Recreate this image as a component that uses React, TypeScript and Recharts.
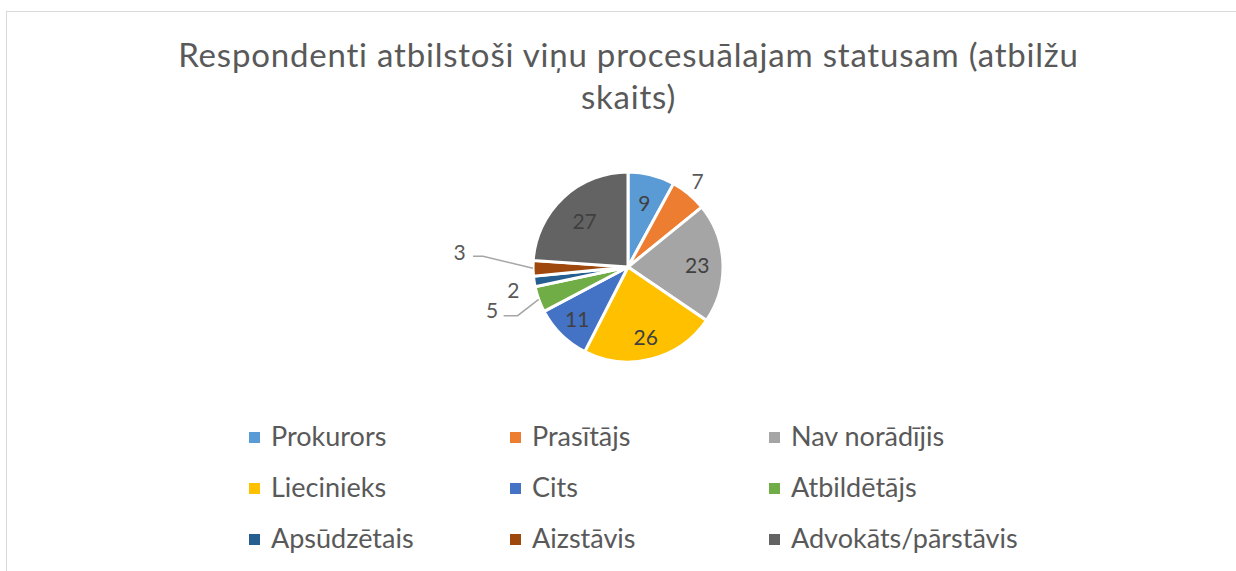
import React from "react";
import { PieChart, Pie, Cell, Legend } from "recharts";

const categories = [
  "Prokurors",
  "Prasītājs",
  "Nav norādījis",
  "Liecinieks",
  "Cits",
  "Atbildētājs",
  "Apsūdzētais",
  "Aizstāvis",
  "Advokāts/pārstāvis",
];
const counts = [9, 7, 23, 26, 11, 5, 2, 3, 27];
const colors = ["#5b9bd5", "#ed7d31", "#a5a5a5", "#ffc000", "#4472c4", "#70ad47", "#255e91", "#9e480e", "#636363"];
const title = ["Respondenti atbilstoši viņu procesuālajam statusam (atbilžu", "skaits)"];

const data = categories.map((name, i) => ({ name, value: counts[i], color: colors[i] }));

const RAD = Math.PI / 180;
const TEXT = "#595959";
const FONT = "Lato, 'Open Sans', sans-serif";

// label placement per slice: radius factor, angle shift, optional leader elbow
type Place = { r: number; da: number; inside?: boolean; elbow?: { r: number; a: number; run: number } };
const places: Place[] = [
  { r: 0.7, da: 0, inside: true },
  { r: 1.17, da: 1 },
  { r: 0.73, da: 0, inside: true },
  { r: 0.75, da: 0, inside: true },
  { r: 0.76, da: 0, inside: true },
  { r: 1.5, da: -2.4, elbow: { r: 1.27, a: 3.9, run: 14 } },
  { r: 1.23, da: 2.5 },
  { r: 1.78, da: -6, elbow: { r: 1.53, a: -5, run: 10 } },
  { r: 0.67, da: 0, inside: true },
];

function pt(cx: number, cy: number, r: number, a: number) {
  return { x: cx + r * Math.cos(-a * RAD), y: cy + r * Math.sin(-a * RAD) };
}

function renderLabel(props: any) {
  const { cx, cy, midAngle, outerRadius, index, value } = props;
  const p = places[index];
  const t = pt(cx, cy, outerRadius * p.r, midAngle + p.da);
  let line = null;
  if (p.elbow) {
    const s = pt(cx, cy, outerRadius, midAngle);
    const e = pt(cx, cy, outerRadius * p.elbow.r, midAngle + p.elbow.a);
    line = (
      <polyline
        points={`${s.x},${s.y} ${e.x},${e.y} ${e.x - p.elbow.run},${e.y}`}
        fill="none"
        stroke="#a6a6a6"
        strokeWidth={1.5}
      />
    );
  }
  return (
    <g key={`lbl-${index}`}>
      {line}
      <text
        x={t.x}
        y={t.y}
        textAnchor="middle"
        dominantBaseline="central"
        fill={p.inside ? "#404040" : TEXT}
        fontSize={21}
        fontFamily={FONT}
      >
        {value}
      </text>
    </g>
  );
}

function LegendGrid() {
  return (
    <div
      style={{
        display: "grid",
        gridTemplateColumns: "261px 259px 300px",
        rowGap: 19,
        fontFamily: FONT,
        fontSize: 27,
        color: TEXT,
        lineHeight: "32px",
      }}
    >
      {data.map((d) => (
        <div key={d.name} style={{ display: "flex", alignItems: "flex-start", height: 32 }}>
          <span style={{ width: 11, height: 11, background: d.color, marginTop: 12, marginRight: 11, flex: "none" }} />
          <span style={{ whiteSpace: "nowrap" }}>{d.name}</span>
        </div>
      ))}
    </div>
  );
}

export default function App() {
  return (
    <div style={{ position: "absolute", left: 0, top: 0, width: 1236, height: 571, background: "#fff", overflow: "hidden" }}>
      <div
        style={{
          position: "absolute",
          left: 6,
          top: 11,
          width: 1300,
          height: 600,
          border: "1.5px solid #d9d9d9",
          boxSizing: "border-box",
        }}
      />
      <div
        style={{
          position: "absolute",
          left: 0,
          top: 33,
          width: 1257,
          textAlign: "center",
          fontFamily: FONT,
          fontSize: 33,
          letterSpacing: 0.8,
          lineHeight: "42px",
          color: TEXT,
        }}
      >
        <div>{title[0]}</div>
        <div>{title[1]}</div>
      </div>
      <div style={{ position: "absolute", left: 0, top: 0 }}>
        <PieChart width={1236} height={571} margin={{ top: 0, right: 0, bottom: 0, left: 0 }}>
          <Pie
            data={data}
            dataKey="value"
            nameKey="name"
            cx={628}
            cy={267}
            outerRadius={95}
            startAngle={90}
            endAngle={-270}
            stroke="#ffffff"
            strokeWidth={3}
            label={renderLabel}
            labelLine={false}
            isAnimationActive={false}
          >
            {data.map((d) => (
              <Cell key={d.name} fill={d.color} />
            ))}
          </Pie>
          <Legend
            content={() => <LegendGrid />}
            wrapperStyle={{ position: "absolute", left: 249, top: 420, width: 830 }}
          />
        </PieChart>
      </div>
    </div>
  );
}
